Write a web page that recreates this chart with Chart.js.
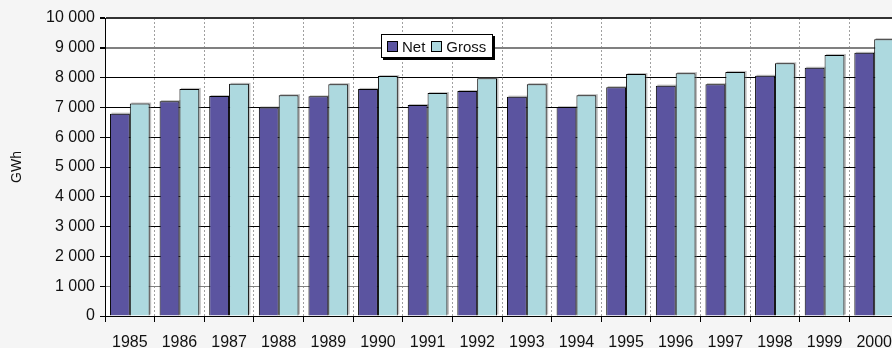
<!DOCTYPE html>
<html>
<head>
<meta charset="utf-8">
<script src="https://cdn.jsdelivr.net/npm/chart.js@4.4.1/dist/chart.umd.min.js"></script>
<style>
    html, body { margin: 0; padding: 0; background: #f5f5f5; overflow: hidden; }
    #wrap { position: relative; width: 910px; height: 348px; }
    #legend {
        position: absolute; left: 381px; top: 34px;
        height: 22px; padding: 0 6px 0 5px;
        background: #fff; border: 1px solid #000; box-shadow: 2px 2px 0 #000;
        display: flex; align-items: center;
        font: 15px "Liberation Sans", Arial, sans-serif; color: #111;
    }
    #legend span.box { display: inline-block; width: 9px; height: 9px; border: 1px solid #000; margin-right: 4px; }
    #legend span.item { display: flex; align-items: center; margin-right: 6px; }
    #legend span.item:last-child { margin-right: 0; }
</style>
</head>
<body>
<div id="wrap">
    <canvas id="genChart" width="910" height="348"></canvas>
    <div id="legend"></div>
</div>
<script>
// ---- data ----
const years = ['1985', '1986', '1987', '1988', '1989', '1990', '1991', '1992',
               '1993', '1994', '1995', '1996', '1997', '1998', '1999', '2000'];
const netValues   = [6790, 7210, 7380, 7000, 7370, 7620, 7080, 7550,
                     7360, 7010, 7680, 7730, 7780, 8060, 8330, 8830];
const grossValues = [7130, 7620, 7790, 7410, 7780, 8050, 7480, 7980,
                     7780, 7410, 8120, 8150, 8190, 8480, 8760, 9290];
const seriesNames = ['Net', 'Gross'];
const seriesColors = ['#5B54A0', '#ADD9DF'];

// white plot area
const plotBg = {
    id: 'plotBg',
    beforeDraw(chart) {
        const { ctx, chartArea: a } = chart;
        ctx.save();
        ctx.fillStyle = '#ffffff';
        ctx.fillRect(a.left, a.top, a.right - a.left, a.bottom - a.top);
        ctx.restore();
    }
};

// little gray drop shadow behind each bar
const barShadow = {
    id: 'barShadow',
    beforeDatasetsDraw(chart) {
        const ctx = chart.ctx;
        ctx.save();
        ctx.fillStyle = 'rgba(110,110,110,0.45)';
        chart.data.datasets.forEach((ds, i) => {
            chart.getDatasetMeta(i).data.forEach(bar => {
                const p = bar.getProps(['x', 'y', 'base', 'width'], true);
                ctx.fillRect(p.x - p.width / 2 + 1.5, p.y - 1, p.width, p.base - p.y);
            });
        });
        ctx.restore();
    }
};

const fmt = v => String(v).replace(/\B(?=(\d{3})+(?!\d))/g, ' ');

const ctx = document.getElementById('genChart').getContext('2d');
const myChart = new Chart(ctx, {
    type: 'bar',
    data: {
        labels: years,
        datasets: [{
            label: seriesNames[0],
            data: netValues,
            backgroundColor: seriesColors[0],
            borderColor: '#000',
            borderWidth: 1
        }, {
            label: seriesNames[1],
            data: grossValues,
            backgroundColor: seriesColors[1],
            borderColor: '#000',
            borderWidth: 1
        }]
    },
    options: {
        responsive: false,
        animation: false,
        devicePixelRatio: 1,
        layout: { padding: { top: 18, right: 11, left: 0, bottom: 0 } },
        datasets: {
            bar: { categoryPercentage: 0.8, barPercentage: 1.0 }
        },
        plugins: {
            legend: { display: false },
            tooltip: { enabled: false }
        },
        scales: {
            x: {
                grid: {
                    color: '#a0a0a0',
                    tickColor: '#000',
                    tickLength: 6,
                    tickBorderDash: [],
                    offset: true
                },
                border: { display: true, color: '#000', dash: [2, 2] },
                ticks: {
                    color: '#111',
                    padding: 11,
                    maxRotation: 0,
                    font: { size: 16, family: '"Liberation Sans", Arial, sans-serif' }
                },
                afterFit(scale) { scale.height = 32; }
            },
            y: {
                min: 0,
                max: 10000,
                grid: {
                    color: c => c.tick.value === 10000 ? '#333' :
                        (c.tick.value === 9000 || c.tick.value === 1000) ? '#808080' : '#000',
                    lineWidth: c => (c.tick.value === 10000 || c.tick.value === 9000) ? 2 : 1,
                    tickColor: '#000',
                    tickLength: 5
                },
                border: { display: true, color: '#000' },
                ticks: {
                    stepSize: 1000,
                    color: '#111',
                    padding: 5,
                    font: { size: 16, family: '"Liberation Sans", Arial, sans-serif' },
                    callback: v => fmt(v)
                },
                title: {
                    display: true,
                    text: 'GWh',
                    color: '#111',
                    padding: { top: 9, bottom: 0 },
                    font: { size: 14, family: '"Liberation Sans", Arial, sans-serif' }
                },
                afterFit(scale) { scale.width = 105; }
            }
        }
    },
    plugins: [plotBg, barShadow]
});

// legend box built from the datasets
document.getElementById('legend').innerHTML = myChart.data.datasets.map(ds => `
    <span class="item"><span class="box" style="background:${ds.backgroundColor}"></span>${ds.label}</span>
`).join('');
</script>
</body>
</html>
